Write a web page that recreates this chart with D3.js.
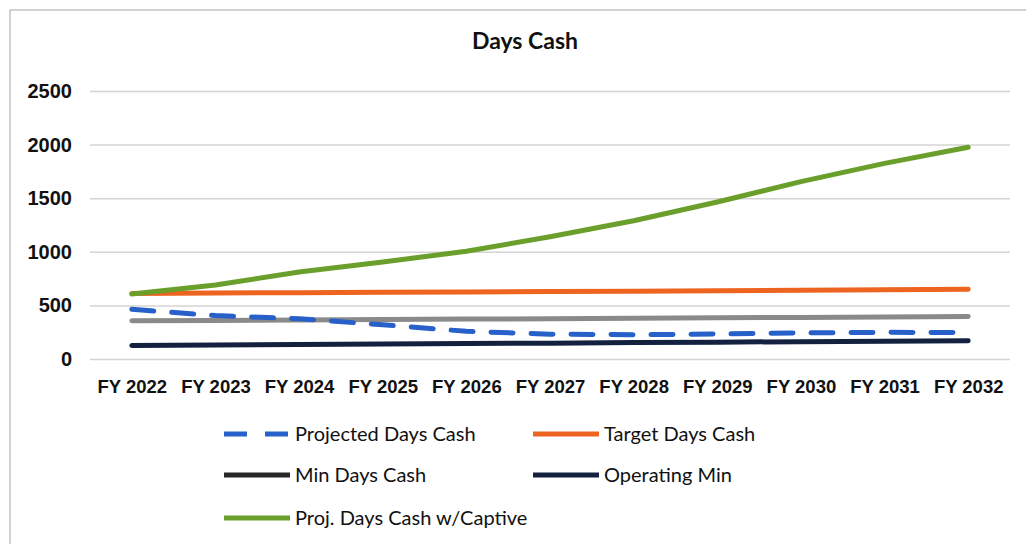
<!DOCTYPE html>
<html>
<head>
<meta charset="utf-8">
<script src="https://cdn.jsdelivr.net/npm/d3@7"></script>
<style>
  body { margin: 0; background: #fff; }
  svg { font-family: Lato, "Open Sans", sans-serif; }
</style>
</head>
<body>
<div id="chart"></div>
<script>
// Chart data
const years = ['FY 2022', 'FY 2023', 'FY 2024', 'FY 2025', 'FY 2026', 'FY 2027', 'FY 2028', 'FY 2029', 'FY 2030', 'FY 2031', 'FY 2032'];
const projectedDaysCash = [463, 405, 375, 320, 258, 232, 226, 233, 243, 249, 246];
const targetDaysCash = [612, 615, 619, 622, 626, 629, 633, 637, 641, 646, 651];
const minDaysCash = [356, 360, 364, 368, 372, 376, 380, 384, 388, 392, 396];
const operatingMin = [127, 131, 135, 140, 144, 148, 153, 157, 162, 166, 171];
const projCaptive = [607, 690, 812, 905, 1005, 1140, 1290, 1465, 1655, 1825, 1975];
const yTicks = [0, 500, 1000, 1500, 2000, 2500];

const series = [
  {name: 'Projected Days Cash', values: projectedDaysCash, color: '#2660c8', legendColor: '#2660c8', dash: '22,18'},
  {name: 'Target Days Cash', values: targetDaysCash, color: '#ec6420', legendColor: '#ec6420', dash: null},
  {name: 'Min Days Cash', values: minDaysCash, color: '#8a8a8a', legendColor: '#262626', dash: null},
  {name: 'Operating Min', values: operatingMin, color: '#13213f', legendColor: '#13213f', dash: null},
  {name: 'Proj. Days Cash w/Captive', values: projCaptive, color: '#6a9f2c', legendColor: '#6a9f2c', dash: null}
];

const totalWidth = 1026, totalHeight = 544;
const margins = {top: 91, bottom: 185, left: 90, right: 16};
const width = totalWidth - margins.left - margins.right;
const height = totalHeight - margins.top - margins.bottom;

const svg = d3.select('#chart').append('svg')
  .attr('width', totalWidth)
  .attr('height', totalHeight);

// chart frame
svg.append('rect')
  .attr('x', 10).attr('y', 10)
  .attr('width', 1030).attr('height', 560)
  .style('fill', 'none')
  .style('stroke', '#c4c4c4')
  .style('stroke-width', 1.5);

svg.append('text')
  .attr('x', 525).attr('y', 49)
  .attr('text-anchor', 'middle')
  .style('font-size', '23px')
  .style('font-weight', 'bold')
  .style('fill', '#111')
  .text('Days Cash');

const x = d3.scalePoint().domain(years).range([0, width]).padding(0.5);
const y = d3.scaleLinear().domain([0, 2500]).range([height, 0]);

const plot = svg.append('g')
  .attr('transform', 'translate(' + [margins.left, margins.top] + ')');

// gridlines + y labels
const yAxis = d3.axisLeft(y).tickValues(yTicks).tickSize(-width).tickPadding(18).tickFormat(d3.format('d'));
plot.append('g')
  .attr('class', 'axis axis--y')
  .call(yAxis)
  .call(g => g.select('.domain').remove())
  .call(g => g.selectAll('.tick line').style('stroke', '#d4d4d4').style('stroke-width', 1.5))
  .call(g => g.selectAll('.tick text')
    .style('font-size', '20px').style('font-weight', 'bold').style('fill', '#111'));

// x labels
const xAxis = d3.axisBottom(x).tickSize(0).tickPadding(21);
plot.append('g')
  .attr('class', 'axis axis--x')
  .attr('transform', 'translate(' + [0, height] + ')')
  .call(xAxis)
  .call(g => g.select('.domain').remove())
  .call(g => g.selectAll('.tick text')
    .style('font-size', '18.5px').style('font-weight', 'bold').style('fill', '#111'));

const line = d3.line()
  .x((d, i) => x(years[i]))
  .y(d => y(d));

// draw order: gray, navy, orange, blue dashed, green
const drawOrder = [2, 3, 1, 0, 4];
drawOrder.forEach(k => {
  const s = series[k];
  plot.append('path')
    .datum(s.values)
    .attr('d', line)
    .style('fill', 'none')
    .style('stroke', s.color)
    .style('stroke-width', 5)
    .style('stroke-linecap', 'round')
    .style('stroke-linejoin', 'round')
    .style('stroke-dasharray', s.dash);
});

// legend
const legendPos = [[224, 434], [533, 434], [224, 475], [533, 475], [224, 518]];
const legend = svg.append('g').attr('class', 'legend');
series.forEach((s, i) => {
  const g = legend.append('g')
    .attr('transform', 'translate(' + legendPos[i] + ')');
  g.append('line')
    .attr('x1', 0).attr('x2', 66)
    .attr('y1', 0).attr('y2', 0)
    .style('stroke', s.legendColor)
    .style('stroke-width', 5)
    .style('stroke-dasharray', s.dash ? '23,18' : null);
  g.append('text')
    .attr('x', 71).attr('y', 7)
    .style('font-size', '20px')
    .style('fill', '#111')
    .text(s.name);
});
</script>
</body>
</html>
